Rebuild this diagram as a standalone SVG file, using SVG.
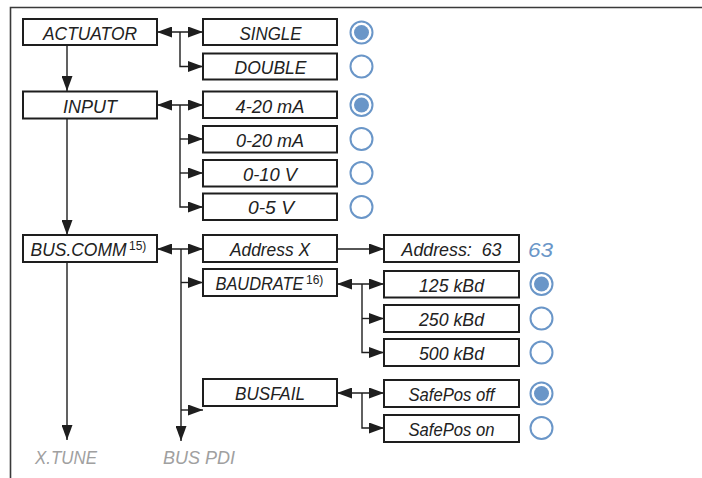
<svg xmlns="http://www.w3.org/2000/svg" width="702" height="478" viewBox="0 0 702 478">
<defs>
<marker id="ah" viewBox="0 0 15 11" refX="15" refY="5.5" markerWidth="15" markerHeight="11" markerUnits="userSpaceOnUse" orient="auto-start-reverse">
<path d="M0,0 L15,5.5 L0,11 z" fill="#1e1e1e"/>
</marker>
<style>
.box{fill:#fff;stroke:#1e1e1e;stroke-width:2}
.t{font-family:"Liberation Sans",Arial,sans-serif;font-style:italic;font-size:18.5px;fill:#222;text-anchor:middle}
.ts{font-family:"Liberation Sans",Arial,sans-serif;font-style:italic;font-size:18.5px;fill:#222}
.sup{font-size:12px;font-style:normal}
.g{font-family:"Liberation Sans",Arial,sans-serif;font-style:italic;font-size:19px;fill:#a0a0a0}
.c{fill:none;stroke:#1e1e1e;stroke-width:1.4}
.e{marker-end:url(#ah)}
.d{marker-start:url(#ah);marker-end:url(#ah)}
.r{fill:#fff;stroke:#6a96c8;stroke-width:2}
.dot{fill:#6a96c8}
.b{font-family:"Liberation Sans",Arial,sans-serif;font-style:italic;font-size:20px;fill:#6a96c8}
</style>
</defs>
<g id="frame" fill="none" stroke="#3a3a3a" stroke-width="1.6">
<path d="M10.5,478 V7.5 H702"/>
</g>
<g id="connectors">
<line class="c e" x1="67" y1="45" x2="67" y2="91"/>
<line class="c e" x1="67" y1="118" x2="67" y2="235"/>
<line class="c e" x1="67" y1="262" x2="67" y2="440"/>
<line class="c d" x1="157" y1="32" x2="203" y2="32"/>
<path class="c e" d="M180,32 V66.5 H203"/>
<line class="c d" x1="157" y1="105" x2="203" y2="105"/>
<path class="c e" d="M180,105 V207 H203"/>
<path class="c e" d="M180,139 H203"/>
<path class="c e" d="M180,173 H203"/>
<line class="c d" x1="157" y1="249" x2="203" y2="249"/>
<path class="c e" d="M181,249 V441"/>
<path class="c e" d="M181,282.5 H203"/>
<path class="c e" d="M181,410 H203"/>
<line class="c e" x1="337" y1="249" x2="384" y2="249"/>
<line class="c d" x1="337" y1="284" x2="384" y2="284"/>
<path class="c e" d="M362,284 V352.5 H384"/>
<path class="c e" d="M362,318.5 H384"/>
<line class="c d" x1="337" y1="393" x2="384" y2="393"/>
<path class="c e" d="M362,393 V428 H384"/>
</g>
<g id="n-actuator"><rect class="box" x="23" y="19" width="134" height="26"/><text class="t" x="90" y="39.5" textLength="94" lengthAdjust="spacingAndGlyphs">ACTUATOR</text></g>
<g id="n-input"><rect class="box" x="23" y="91.5" width="134" height="27"/><text class="t" x="90" y="112.5" textLength="54" lengthAdjust="spacingAndGlyphs">INPUT</text></g>
<g id="n-buscomm"><rect class="box" x="23" y="235" width="134" height="27"/><text class="ts" x="30.5" y="256"><tspan textLength="96" lengthAdjust="spacingAndGlyphs">BUS.COMM</tspan><tspan class="sup" dx="2.5" dy="-6.5">15)</tspan></text></g>
<g id="n-single"><rect class="box" x="203" y="19" width="134" height="26"/><text class="t" x="270.5" y="39.5" textLength="62" lengthAdjust="spacingAndGlyphs">SINGLE</text></g>
<g id="n-double"><rect class="box" x="203" y="53.5" width="134" height="26"/><text class="t" x="270.5" y="74" textLength="72" lengthAdjust="spacingAndGlyphs">DOUBLE</text></g>
<g id="n-4-20"><rect class="box" x="203" y="91.5" width="134" height="26.5"/><text class="t" x="270" y="112.5" textLength="69" lengthAdjust="spacingAndGlyphs">4-20 mA</text></g>
<g id="n-0-20"><rect class="box" x="203" y="126" width="134" height="26.5"/><text class="t" x="270" y="146.5" textLength="68" lengthAdjust="spacingAndGlyphs">0-20 mA</text></g>
<g id="n-0-10"><rect class="box" x="203" y="160" width="134" height="26.5"/><text class="t" x="270" y="180.5" textLength="54" lengthAdjust="spacingAndGlyphs">0-10 V</text></g>
<g id="n-0-5"><rect class="box" x="203" y="193.5" width="134" height="26.5"/><text class="t" x="271" y="214" textLength="46" lengthAdjust="spacingAndGlyphs">0-5 V</text></g>
<g id="n-addrx"><rect class="box" x="203" y="235" width="134" height="27"/><text class="t" x="270" y="256" textLength="80" lengthAdjust="spacingAndGlyphs">Address X</text></g>
<g id="n-baud"><rect class="box" x="203" y="269" width="134" height="27"/><text class="ts" x="215.5" y="290"><tspan textLength="88" lengthAdjust="spacingAndGlyphs">BAUDRATE</tspan><tspan class="sup" dx="2.5" dy="-6.5">16)</tspan></text></g>
<g id="n-busfail"><rect class="box" x="203" y="379" width="134" height="27"/><text class="t" x="270" y="400" textLength="70" lengthAdjust="spacingAndGlyphs">BUSFAIL</text></g>
<g id="n-addr63"><rect class="box" x="384" y="235" width="135" height="27"/><text class="t" x="451.5" y="256" textLength="100" lengthAdjust="spacingAndGlyphs" xml:space="preserve">Address:  63</text></g>
<g id="n-125"><rect class="box" x="384" y="271" width="135" height="26.5"/><text class="t" x="451.5" y="291.5" textLength="65" lengthAdjust="spacingAndGlyphs">125 kBd</text></g>
<g id="n-250"><rect class="box" x="384" y="305" width="135" height="27"/><text class="t" x="451.5" y="325.5" textLength="65" lengthAdjust="spacingAndGlyphs">250 kBd</text></g>
<g id="n-500"><rect class="box" x="384" y="339" width="135" height="27"/><text class="t" x="451.5" y="359.5" textLength="65" lengthAdjust="spacingAndGlyphs">500 kBd</text></g>
<g id="n-spoff"><rect class="box" x="384" y="380" width="135" height="27"/><text class="t" x="451.5" y="400.5" textLength="86" lengthAdjust="spacingAndGlyphs">SafePos off</text></g>
<g id="n-spon"><rect class="box" x="384" y="415" width="135" height="27"/><text class="t" x="451.5" y="435.5" textLength="86" lengthAdjust="spacingAndGlyphs">SafePos on</text></g>
<g id="radios">
<circle class="r" cx="361.5" cy="32.5" r="11"/><circle class="dot" cx="361.5" cy="32.5" r="7.5"/>
<circle class="r" cx="361.5" cy="66.5" r="11"/>
<circle class="r" cx="361.5" cy="105" r="11"/><circle class="dot" cx="361.5" cy="105" r="7.5"/>
<circle class="r" cx="361.5" cy="139" r="11"/>
<circle class="r" cx="361.5" cy="173" r="11"/>
<circle class="r" cx="361.5" cy="207" r="11"/>
<circle class="r" cx="541.5" cy="284" r="11"/><circle class="dot" cx="541.5" cy="284" r="7.5"/>
<circle class="r" cx="541.5" cy="318.5" r="11"/>
<circle class="r" cx="541.5" cy="352.5" r="11"/>
<circle class="r" cx="541.5" cy="393.5" r="11"/><circle class="dot" cx="541.5" cy="393.5" r="7.5"/>
<circle class="r" cx="541.5" cy="428" r="11"/>
</g>
<g id="n-63"><text class="b" x="528" y="256.5" textLength="25" lengthAdjust="spacingAndGlyphs">63</text></g>
<g id="n-xtune"><text class="g" x="35" y="463.5" textLength="62" lengthAdjust="spacingAndGlyphs">X.TUNE</text></g>
<g id="n-buspdi"><text class="g" x="163" y="463.5" textLength="72" lengthAdjust="spacingAndGlyphs">BUS PDI</text></g>
</svg>
